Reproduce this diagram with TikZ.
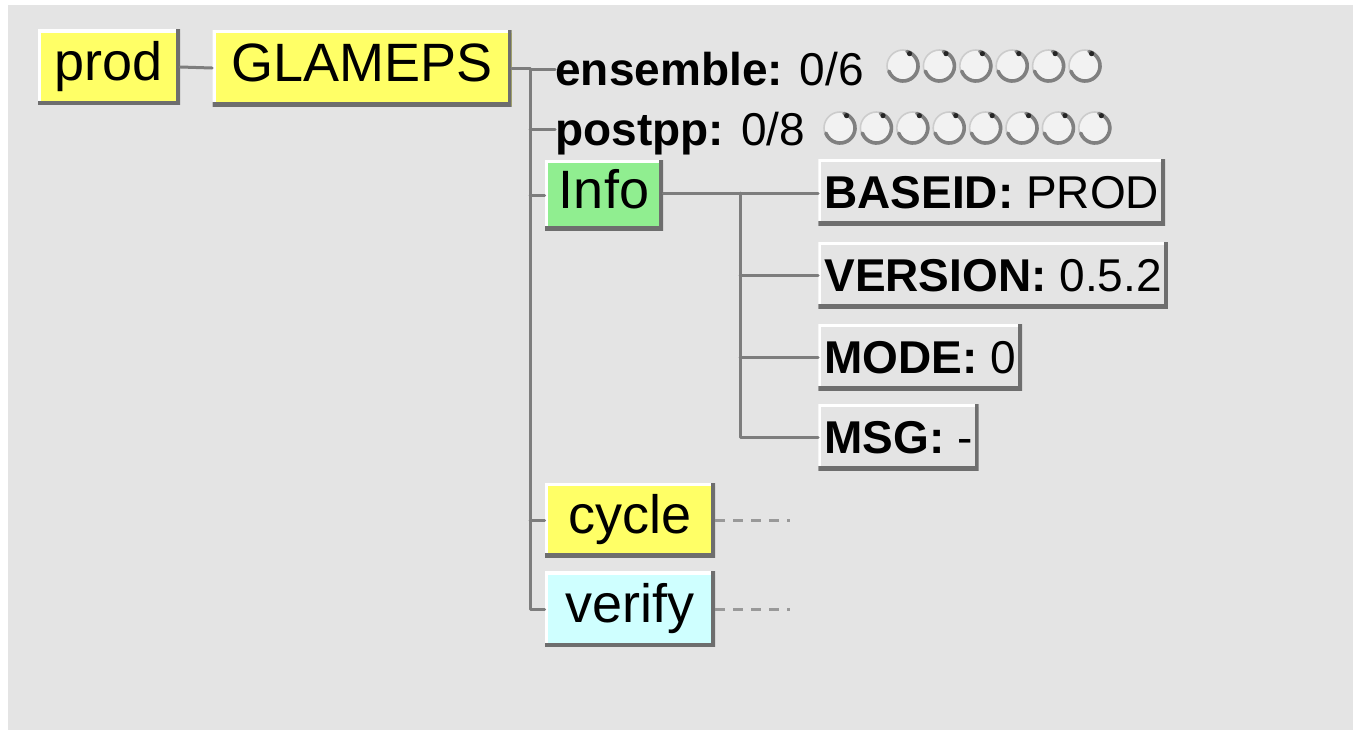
\documentclass[tikz,border=0pt]{standalone}
\usepackage{fontspec}
\setmainfont{Liberation Sans}
\definecolor{bgr}{RGB}{228,228,228}
\definecolor{ylw}{RGB}{255,255,102}
\definecolor{grn}{RGB}{144,238,144}
\definecolor{cyn}{RGB}{207,255,255}
\definecolor{edge}{RGB}{125,125,125}
\definecolor{shd}{RGB}{110,110,110}
\begin{document}
\begin{tikzpicture}[x=0.5pt,y=-0.5pt,line join=round,line cap=round,
	font=\fontsize{27}{30}\selectfont,
	tkbox/.style={fill=#1,inner sep=0pt,text height=19.5pt,text depth=6.5pt,
		path picture={
			\draw[white,line width=3pt] (path picture bounding box.south west)--(path picture bounding box.north west)--(path picture bounding box.north east);
			\draw[shd,line width=4pt] (path picture bounding box.north east)--(path picture bounding box.south east)--(path picture bounding box.south west);}},
	keybox/.style={tkbox=bgr,anchor=west,inner xsep=3pt,minimum height=33pt,
		text height=16.5pt,text depth=0pt,font=\fontsize{23}{26}\selectfont},
	job/.style={anchor=west,inner sep=0pt,text height=16.5pt,text depth=0pt,
		font=\fontsize{23}{26}\selectfont},
	tree/.style={draw=edge,line width=1.5pt},
	led/.style={fill=white!95!black},
	ledrim/.style={draw=black!50,line width=1.8pt}]
	%fond
	\useasboundingbox (0,0) rectangle (1353,730);
	\fill[white] (0,0) rectangle (1353,730);
	\fill[bgr] (8,5) rectangle (1353,730);
	%noeuds
	\node[tkbox=ylw,minimum width=71pt,minimum height=37.5pt] (prod) at (109,67) {prod};
	\node[tkbox=ylw,minimum width=149.5pt,minimum height=38pt] (glameps) at (362,68) {GLAMEPS};
	\node[job] (ens) at (555,69) {\textbf{ensemble:} 0/6};
	\node[job] (pp) at (555,129) {\textbf{postpp:} 0/8};
	\node[tkbox=grn,minimum width=59pt,minimum height=35pt] (info) at (604,195) {Info};
	\node[tkbox=ylw,minimum width=85pt,minimum height=37pt] (cyc) at (630,520) {cycle};
	\node[tkbox=cyn,minimum width=85pt,minimum height=37.5pt] (ver) at (630,609) {verify};
	\node[keybox] (baseid) at (818,192) {\textbf{BASEID:} PROD};
	\node[keybox] (version) at (818,275) {\textbf{VERSION:} 0.5.2};
	\node[keybox] (mode) at (818,357) {\textbf{MODE:} 0};
	\node[keybox] (msg) at (818,437) {\textbf{MSG:} -};
	%voyants
	\foreach \n/\x/\y/\k in {e/903/66/5,p/840/128/7}{
		\foreach \i in {0,...,\k}{
			\path (\x+36.4*\i,\y) coordinate (\n\i);}}
	\foreach \c in {e0,e1,e2,e3,e4,e5,p0,p1,p2,p3,p4,p5,p6,p7}{
		\fill[led] (\c) circle (16);
		\draw[black!20,line width=.8pt] (\c) circle (16);
		\draw[ledrim] (\c) ++(-75:15) arc (-75:160:15);
		\fill[black!85] (\c) ++(-62:14) circle (2.6);}
	%liens
	\path (530,68) coordinate (t1) (740,193) coordinate (t2);
	\draw[tree] (prod.east) -- (glameps.west);
	\draw[tree] (glameps.east |- t1) -- (t1) -- (t1 |- ver.west) -- (ver.west);
	\foreach \n in {ens,pp,info,cyc}
		\draw[tree] (t1 |- \n.west) -- (\n.west);
	\draw[tree] (info.east |- t2) -- (t2 -| baseid.west);
	\draw[tree] (t2) -- (t2 |- msg.west) -- (msg.west);
	\foreach \n in {version,mode}
		\draw[tree] (t2 |- \n.west) -- (\n.west);
	\foreach \n in {cyc,ver}
		\draw[draw=black!40,line width=1.5pt,dash pattern=on 5pt off 4pt,line cap=butt] (\n.east) -- ++(75,0);
\end{tikzpicture}
\end{document}
